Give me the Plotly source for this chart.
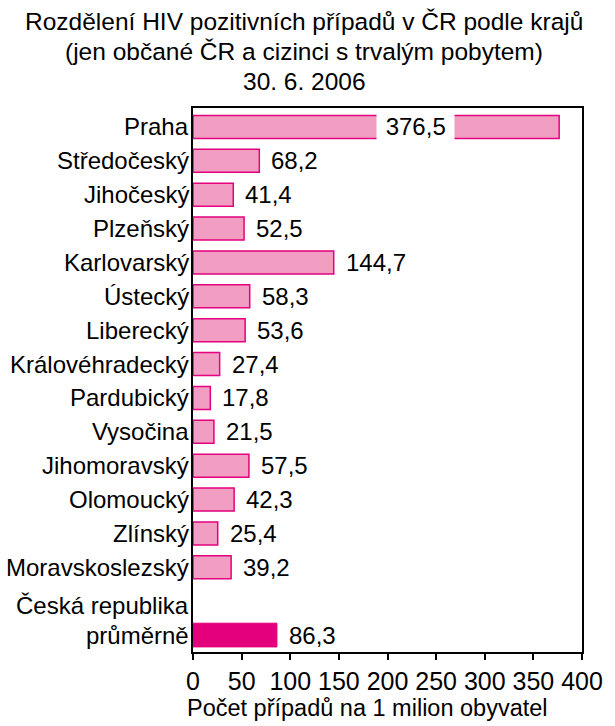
import plotly.graph_objects as go

# Kraje a počty případů na 1 milion obyvatel
regions = [
    "Praha", "Středočeský", "Jihočeský", "Plzeňský", "Karlovarský", "Ústecký",
    "Liberecký", "Královéhradecký", "Pardubický", "Vysočina", "Jihomoravský",
    "Olomoucký", "Zlínský", "Moravskoslezský",
]
values = [376.5, 68.2, 41.4, 52.5, 144.7, 58.3, 53.6, 27.4, 17.8, 21.5, 57.5, 42.3, 25.4, 39.2]

avg_label_top = "Česká republika"
avg_label = "průměrně"
avg_value = 86.3

x_ticks = [0, 50, 100, 150, 200, 250, 300, 350, 400]
x_title = "Počet případů na 1 milion obyvatel"

title_lines = [
    "Rozdělení HIV pozitivních případů v ČR podle krajů",
    "(jen občané ČR a cizinci s trvalým pobytem)",
    "30. 6. 2006",
]

FONT = "Liberation Sans, Arial, sans-serif"
NARROW = "Liberation Sans Narrow, Arial Narrow, Liberation Sans, sans-serif"
PINK = "#F19EC2"
MAGENTA = "#E5007E"

W, H = 615, 726
ML, MR, MT, MB = 193, 21, 108, 74
plot_h = H - MT - MB
plot_w = W - ML - MR

region_pos = list(range(len(regions)))
avg_pos = len(regions) + 1  # one empty row above the average bar

def fmt(v):
    return f"{v:.1f}".replace(".", ",")

def paper_y(px):
    return (H - MB - px) / plot_h

def paper_x(px):
    return (px - ML) / plot_w

fig = go.Figure()
fig.add_trace(go.Bar(
    x=values, y=region_pos, orientation="h",
    marker=dict(color=PINK, line=dict(color=MAGENTA, width=1.5)),
    width=0.68, hoverinfo="skip",
))
fig.add_trace(go.Bar(
    x=[avg_value], y=[avg_pos], orientation="h",
    marker=dict(color="#E4007C", line=dict(color="#E4007C", width=1)),
    width=0.7, hoverinfo="skip",
))

annotations = []
val_font = dict(family=FONT, size=24, color="black")
lab_font = dict(family=FONT, size=24, color="black")

for i, (r, v) in enumerate(zip(regions, values)):
    # category label left of the axis
    annotations.append(dict(
        x=0, y=i, xref="paper", yref="y", text=r, showarrow=False,
        xanchor="right", yanchor="middle", xshift=-2, font=lab_font,
    ))
    if r == "Praha":
        # long bar: value label sits on the bar over a white box
        annotations.append(dict(
            x=229, y=i, xref="x", yref="y", text="&nbsp;" + fmt(v) + "&nbsp;",
            showarrow=False, xanchor="center", yanchor="middle",
            bgcolor="white", borderpad=2, font=val_font,
        ))
    else:
        annotations.append(dict(
            x=v, y=i, xref="x", yref="y", text=fmt(v), showarrow=False,
            xanchor="left", yanchor="middle", xshift=10, font=val_font,
        ))

annotations.append(dict(
    x=0, y=avg_pos, xref="paper", yref="y", text=avg_label, showarrow=False,
    xanchor="right", yanchor="middle", xshift=-2, font=lab_font,
))
annotations.append(dict(
    x=0, y=avg_pos - 0.86, xref="paper", yref="y", text=avg_label_top, showarrow=False,
    xanchor="right", yanchor="middle", xshift=-2, font=lab_font,
))
annotations.append(dict(
    x=avg_value, y=avg_pos, xref="x", yref="y", text=fmt(avg_value), showarrow=False,
    xanchor="left", yanchor="middle", xshift=10, font=val_font,
))

# three-line heading centred on the page
for line, py in zip(title_lines, [21, 51.5, 82]):
    annotations.append(dict(
        x=paper_x(W / 2), y=paper_y(py), xref="paper", yref="paper",
        text=line, showarrow=False, xanchor="center", yanchor="middle",
        font=dict(family=FONT, size=24.5, color="black"),
    ))

# x-axis caption
annotations.append(dict(
    x=paper_x(373), y=paper_y(708), xref="paper", yref="paper",
    text=x_title, showarrow=False, xanchor="center", yanchor="middle",
    font=dict(family=FONT, size=23.5, color="black"),
))

fig.update_layout(
    width=W, height=H,
    margin=dict(l=ML, r=MR, t=MT, b=MB),
    paper_bgcolor="white", plot_bgcolor="white",
    showlegend=False,
    font=dict(family=FONT, size=22, color="black"),
    annotations=annotations,
)
fig.update_xaxes(
    range=[0, 400], tickvals=x_ticks, ticktext=[str(t) for t in x_ticks],
    ticks="outside", ticklen=6, tickwidth=1.5, tickcolor="black",
    showline=True, linecolor="black", linewidth=2, mirror=True,
    showgrid=False, zeroline=False,
    tickfont=dict(family=NARROW, size=25),
)
fig.update_yaxes(
    range=[avg_pos + 0.5, -0.56],
    showticklabels=False, ticks="",
    showline=True, linecolor="black", linewidth=2, mirror=True,
    showgrid=False, zeroline=False,
)

fig.write_html("out.html")
